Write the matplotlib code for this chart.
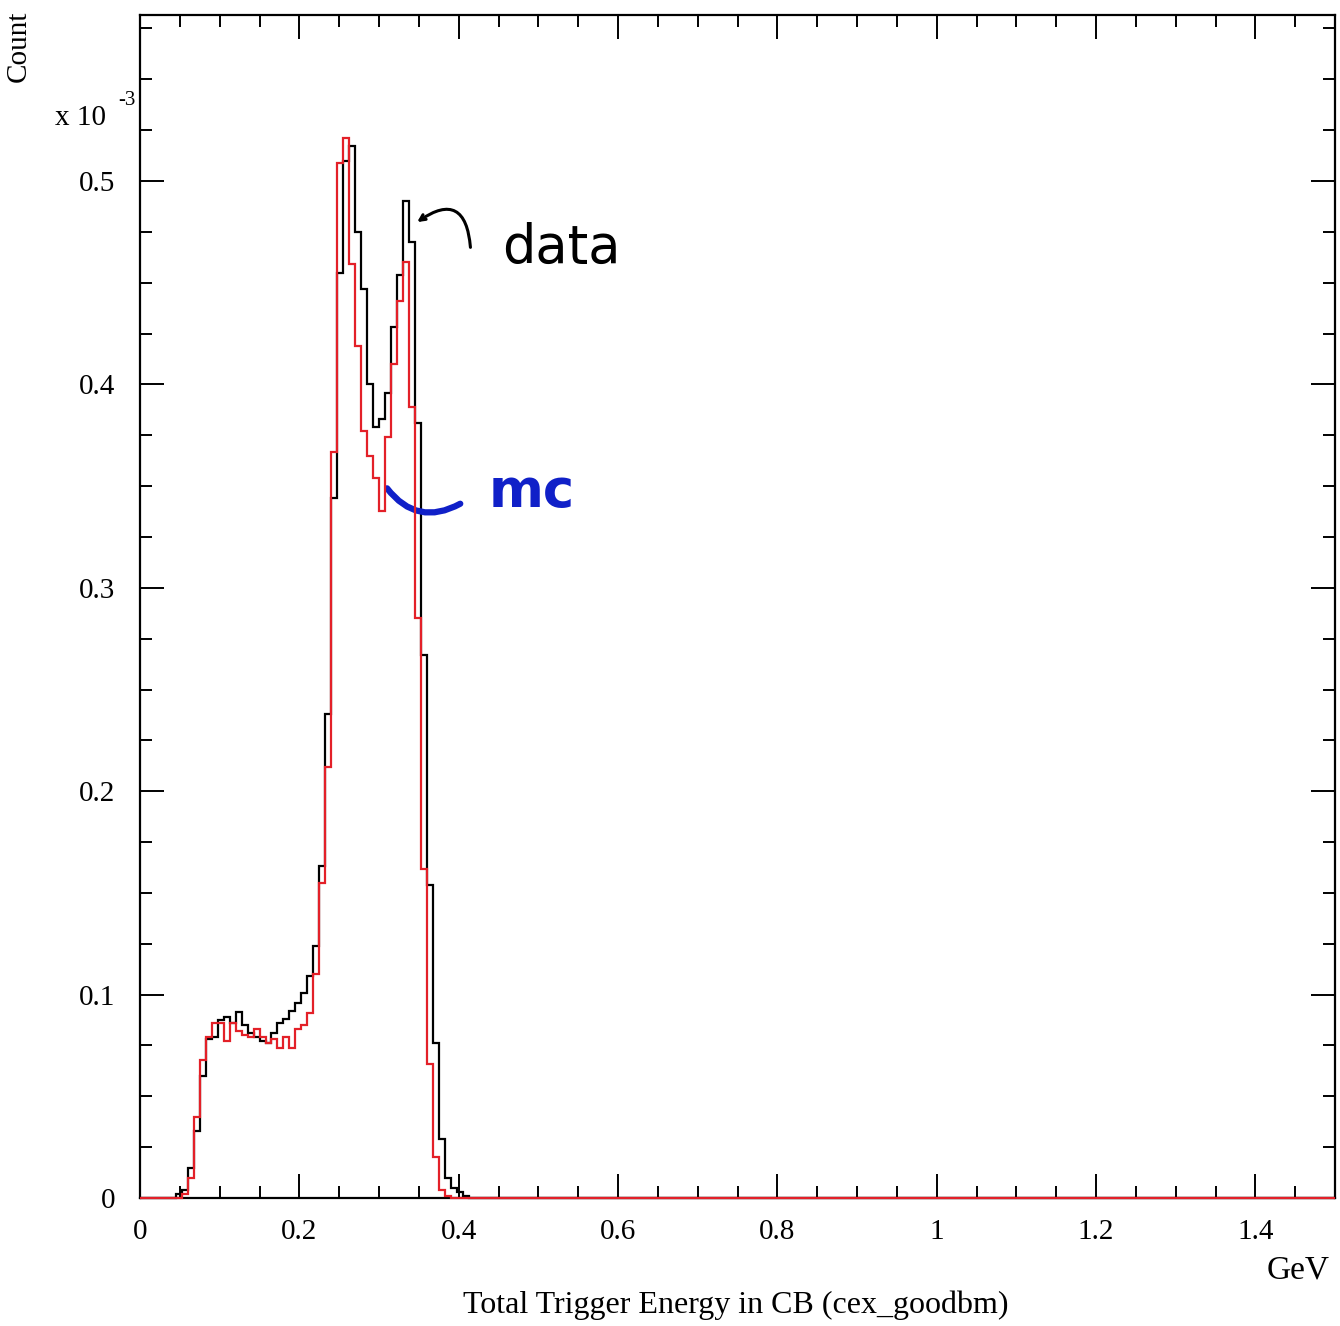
import numpy as np
import matplotlib
matplotlib.use("Agg")
import matplotlib.pyplot as plt
from matplotlib.ticker import MultipleLocator, FormatStrFormatter

plt.rcParams['font.family'] = ['Liberation Serif', 'DejaVu Serif']

# histogram binning: 200 bins over 0 - 1.5 GeV
n_bins = 200
x_range = (0.0, 1.5)
first_bin = 6  # index of the first listed bin; all other bins are empty

# counts in units of 1e-3, bins 6 .. 54
data_counts = [0.002, 0.004, 0.015, 0.033, 0.060, 0.078, 0.079, 0.0875, 0.089, 0.086,
               0.0915, 0.085, 0.081, 0.079, 0.077, 0.076, 0.081, 0.086, 0.088, 0.092,
               0.096, 0.101, 0.109, 0.124, 0.163, 0.238, 0.344, 0.455, 0.510, 0.517,
               0.475, 0.447, 0.400, 0.379, 0.383, 0.396, 0.428, 0.454, 0.490, 0.470,
               0.381, 0.267, 0.154, 0.076, 0.029, 0.010, 0.005, 0.003, 0.001]
mc_counts = [0.0, 0.002, 0.010, 0.040, 0.068, 0.079, 0.086, 0.086, 0.077, 0.086,
             0.082, 0.080, 0.079, 0.083, 0.079, 0.076, 0.078, 0.074, 0.079, 0.074,
             0.083, 0.085, 0.091, 0.110, 0.155, 0.212, 0.367, 0.509, 0.521, 0.459,
             0.419, 0.377, 0.365, 0.354, 0.338, 0.374, 0.410, 0.441, 0.460, 0.389,
             0.285, 0.162, 0.066, 0.020, 0.004, 0.001, 0.0, 0.0, 0.0]

edges = np.linspace(x_range[0], x_range[1], n_bins + 1)


def full_hist(counts):
    h = np.zeros(n_bins)
    h[first_bin:first_bin + len(counts)] = counts
    return h


fig = plt.figure(figsize=(13.4, 13.26), dpi=100)
ax = fig.add_axes([0.1045, 0.0965, 0.8918, 0.8922])

ax.stairs(full_hist(data_counts), edges, color='black', lw=1.6, clip_on=False, zorder=3)
ax.stairs(full_hist(mc_counts), edges, color='#e32028', lw=1.6, clip_on=False, zorder=4)

ax.set_xlim(0, 1.5)
ax.set_ylim(0, 0.5816)

ax.xaxis.set_major_locator(MultipleLocator(0.2))
ax.xaxis.set_minor_locator(MultipleLocator(0.05))
ax.yaxis.set_major_locator(MultipleLocator(0.1))
ax.yaxis.set_minor_locator(MultipleLocator(0.025))
ax.xaxis.set_major_formatter(FormatStrFormatter('%g'))
ax.yaxis.set_major_formatter(FormatStrFormatter('%g'))

ax.tick_params(which='both', direction='in', top=True, right=True, width=1.4, colors='black')
ax.tick_params(which='major', length=17, labelsize=21)
ax.tick_params(which='minor', length=8.5)
ax.tick_params(axis='x', which='major', pad=15)
ax.tick_params(axis='y', which='major', pad=18)
for s in ax.spines.values():
    s.set_linewidth(1.6)

# axis texts
fig.text(0.014, 0.992, 'Count', rotation=90, ha='center', va='top', fontsize=21)
fig.text(0.041, 0.911, 'x 10', ha='left', va='center', fontsize=21)
fig.text(0.088, 0.924, '-3', ha='left', va='center', fontsize=15)
fig.text(0.969, 0.042, 'GeV', ha='center', va='center', fontsize=24)
fig.text(0.549, 0.016, 'Total Trigger Energy in CB (cex_goodbm)', ha='center', va='center',
         fontsize=23)

# handwritten notes
ax.annotate('', xy=(0.345, 0.479), xytext=(0.415, 0.466),
            arrowprops=dict(arrowstyle='->', color='black', lw=2.2,
                            connectionstyle='arc3,rad=0.9'))
ax.text(0.455, 0.467, 'data', fontsize=38, color='black', family='DejaVu Sans',
        va='center', ha='left')
ax.annotate('', xy=(0.308, 0.350), xytext=(0.405, 0.342),
            arrowprops=dict(arrowstyle='-', color='#1020c8', lw=4.5,
                            connectionstyle='arc3,rad=-0.45'))
ax.text(0.438, 0.347, 'mc', fontsize=38, color='#1020c8', family='DejaVu Sans',
        weight='bold', va='center', ha='left')

fig.savefig('out.png', dpi=100)
